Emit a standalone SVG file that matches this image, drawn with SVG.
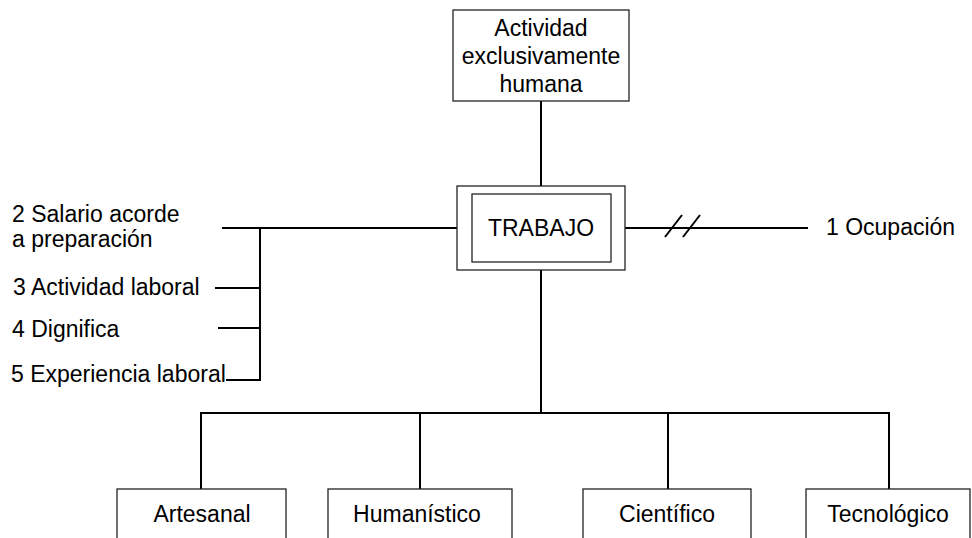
<svg xmlns="http://www.w3.org/2000/svg" width="972" height="538" viewBox="0 0 972 538">
<style>
.box{fill:#fff;stroke:#222;stroke-width:1.3}
.ln{fill:none;stroke:#000;stroke-width:2}
text{font-family:"Liberation Sans",Arial,sans-serif;font-size:23px;fill:#000}
.c{text-anchor:middle}
</style>
<rect width="972" height="538" fill="#fff"/>
<g id="connectors">
<line class="ln" x1="541" y1="101" x2="541" y2="186"/>
<line class="ln" x1="222" y1="228" x2="457" y2="228"/>
<polyline class="ln" points="260,228 260,380 226,380"/>
<line class="ln" x1="215" y1="288" x2="260" y2="288"/>
<line class="ln" x1="218" y1="328" x2="260" y2="328"/>
<line class="ln" x1="625" y1="228" x2="808" y2="228"/>
<line class="ln" x1="665" y1="237" x2="682" y2="215"/>
<line class="ln" x1="683" y1="237" x2="700" y2="215"/>
<line class="ln" x1="541" y1="270" x2="541" y2="413"/>
<polyline class="ln" points="201,489 201,413 889,413 889,489"/>
<line class="ln" x1="420" y1="413" x2="420" y2="489"/>
<line class="ln" x1="668" y1="413" x2="668" y2="489"/>
</g>
<g id="actividad">
<rect class="box" x="453" y="10" width="176" height="91"/>
<text class="c" x="541" y="36">Actividad</text>
<text class="c" x="541" y="64">exclusivamente</text>
<text class="c" x="541" y="92">humana</text>
</g>
<g id="trabajo">
<rect class="box" x="457" y="186" width="168" height="84"/>
<rect class="box" x="472" y="194" width="139" height="68"/>
<text class="c" x="541" y="236">TRABAJO</text>
</g>
<g id="ocupacion"><text x="826" y="235">1 Ocupación</text></g>
<g id="salario"><text x="12" y="222">2 Salario acorde</text><text x="12" y="247">a preparación</text></g>
<g id="actlab"><text x="13" y="295">3 Actividad laboral</text></g>
<g id="dignifica"><text x="12" y="337">4 Dignifica</text></g>
<g id="experiencia"><text x="11" y="382">5 Experiencia laboral</text></g>
<g id="artesanal">
<rect class="box" x="117" y="489" width="169" height="60"/>
<text class="c" x="202" y="522">Artesanal</text>
</g>
<g id="humanistico">
<rect class="box" x="328" y="489" width="184" height="60"/>
<text class="c" x="417" y="522">Humanístico</text>
</g>
<g id="cientifico">
<rect class="box" x="583" y="489" width="168" height="60"/>
<text class="c" x="667" y="522">Científico</text>
</g>
<g id="tecnologico">
<rect class="box" x="806" y="489" width="164" height="60"/>
<text class="c" x="888" y="522">Tecnológico</text>
</g>
</svg>
